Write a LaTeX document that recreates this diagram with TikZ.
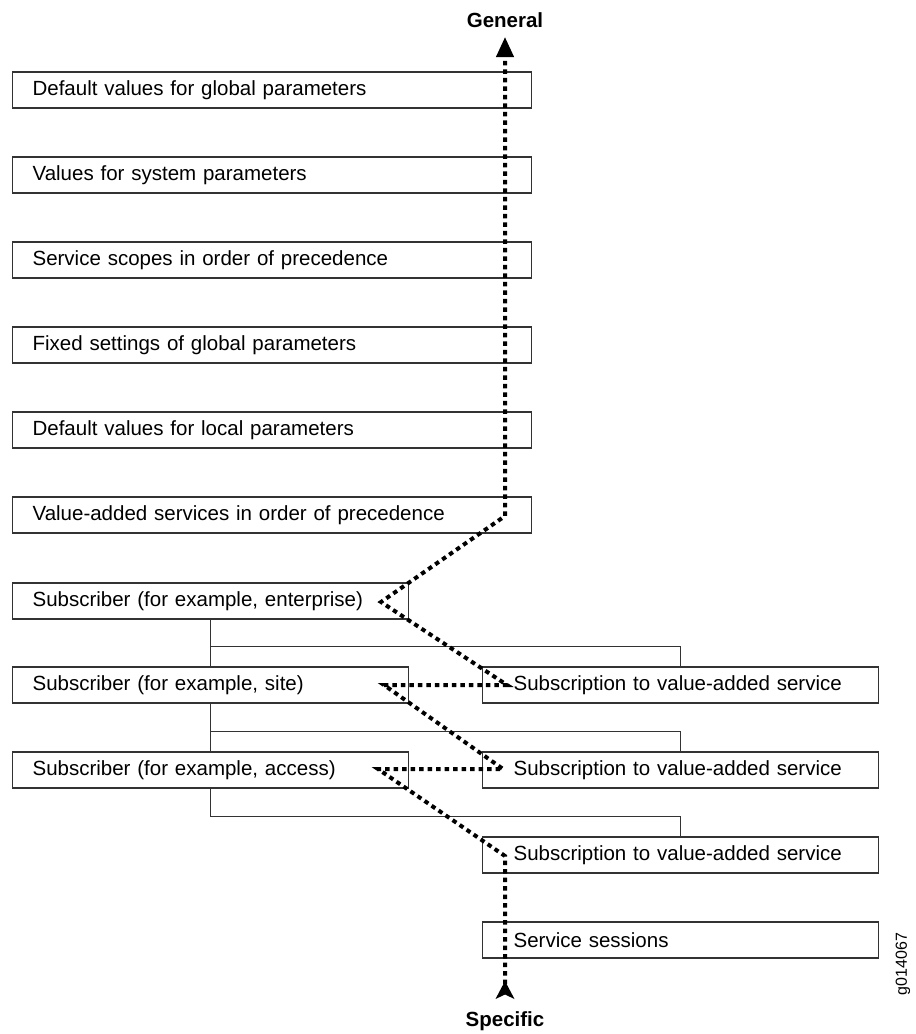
\documentclass[tikz,border=0pt]{standalone}
\usepackage{fontspec}
\setmainfont{Liberation Sans}
\usetikzlibrary{positioning, arrows.meta, calc}

\newcommand{\diagfont}{\fontsize{20.5}{24}\selectfont}
\tikzset{
	levelbox/.style={draw=black!80, line width=1.2pt, anchor=west, minimum height=36pt, inner ysep=0pt, align=left, font=\diagfont},
	widebox/.style={levelbox, inner xsep=20pt, text width=479pt},
	subbox/.style={levelbox, inner xsep=20pt, text width=356pt},
	subsbox/.style={levelbox, inner xsep=31pt, text width=334pt},
	tree/.style={draw=black!80, line width=1.2pt},
	trail/.style={line width=4pt, dash pattern=on 4.5pt off 4pt},
	endlabel/.style={font=\diagfont\bfseries},
}

\begin{document}
\begin{tikzpicture}[x=1pt, y=-1pt]
	\useasboundingbox (0,0) rectangle (916,1034);
	% general levels
	\foreach \n/\txt in {1/Default values for global parameters, 2/Values for system parameters, 3/Service scopes in order of precedence, 4/Fixed settings of global parameters, 5/Default values for local parameters, 6/Value-added services in order of precedence}
		\node[widebox] (lvl\n) at (12, 5+85*\n) {\txt};
	% subscribers and their subscriptions
	\node[subbox] (sub1) at (12, 601) {Subscriber (for example, enterprise)};
	\node[subbox] (sub2) at (12, 685) {Subscriber (for example, site)};
	\node[subbox] (sub3) at (12, 770) {Subscriber (for example, access)};
	\foreach \n in {1,2,3}
		\node[subsbox] (vas\n) at (482, 600+85*\n) {Subscription to value-added service};
	\node[subsbox] (sess) at (482, 940) {Service sessions};
	\draw[tree] (sub1.south) -- (sub2.north);
	\draw[tree] (sub2.south) -- (sub3.north);
	\foreach \n in {1,2,3}
		\draw[tree] (sub\n.south) |- ($(vas\n.north)+(0,-20)$) -- (vas\n.north);
	% specific -> general
	\node[endlabel] (gen) at (505, 20) {General};
	\node[endlabel, anchor=base] (spec) at (505, 1026) {Specific};
	\coordinate (bottom) at (505, 999);
	\coordinate (top) at (505, 37);
	\coordinate (t1) at (505, 856);
	\coordinate (t2) at (378, 769);
	\coordinate (t3) at (503, 769);
	\coordinate (t4) at (384, 685);
	\coordinate (t5) at (507, 685);
	\coordinate (t6) at (381, 602);
	\coordinate (t7) at (505, 516);
	\fill (bottom) ++(0,-18) -- ++(9.5,18) -- ++(-9.5,-4.5) -- ++(-9.5,4.5) -- cycle;
	\draw[trail, -{Triangle[length=20pt, width=17pt]}] ($(bottom)+(0,-15)$) -- (t1) -- (t2) -- (t3) -- (t4) -- (t5) -- (t6) -- (t7) -- (top);
	\node[rotate=90, font=\fontsize{16}{18}\selectfont] (tag) at (903, 964) {g014067};
\end{tikzpicture}
\end{document}
